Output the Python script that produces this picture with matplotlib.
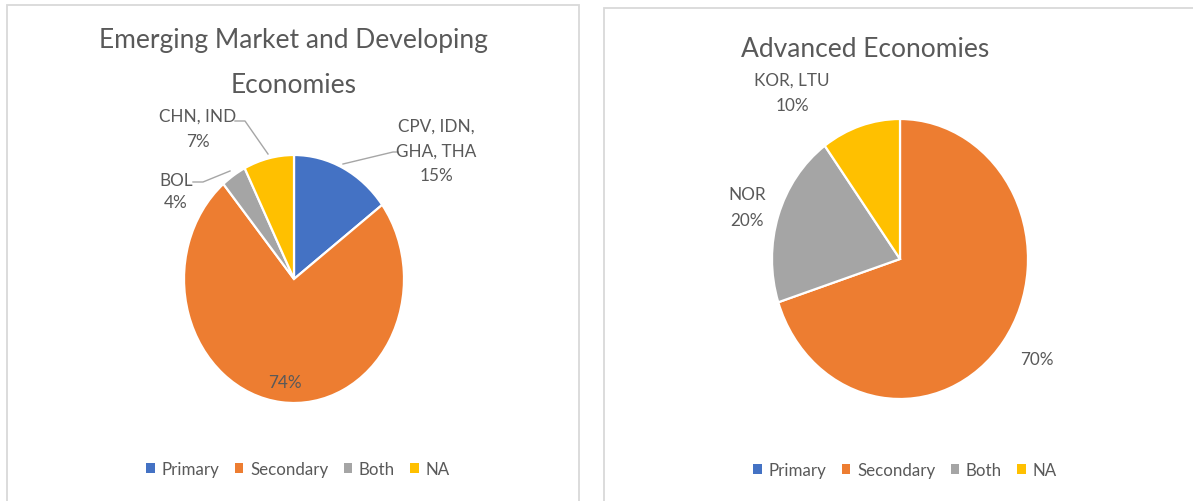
import matplotlib
matplotlib.use("Agg")
import matplotlib.pyplot as plt
from matplotlib.patches import Patch, Rectangle
from matplotlib.lines import Line2D

# ---- data ----
categories = ["Primary", "Secondary", "Both", "NA"]
colors = ["#4472C4", "#ED7D31", "#A5A5A5", "#FFC000"]

emde_title = "Emerging Market and Developing\nEconomies"
emde_values = [14.8, 74.1, 3.7, 7.4]
emde_labels = ["CPV, IDN,\nGHA, THA\n15%", "74%", "BOL\n4%", "CHN, IND\n7%"]

adv_title = "Advanced Economies"
adv_values = [0, 70, 20, 10]
adv_labels = ["", "70%", "NOR\n20%", "KOR, LTU\n10%"]

W, H = 1193, 502
TEXT = "#595959"
FONT = "Lato"
plt.rcParams["font.family"] = [FONT, "DejaVu Sans"]

fig = plt.figure(figsize=(W / 100, H / 100), dpi=100)
fig.patch.set_facecolor("white")


def fx(x):
    return x / W


def fy(y):
    return 1 - y / H


def ftext(x, y_base, s, size, lh=24.5):
    for i, line in enumerate(s.split("\n")):
        fig.text(fx(x), fy(y_base + i * lh), line, ha="center", va="baseline",
                 fontsize=size, color=TEXT)


def fline(xs, ys):
    fig.add_artist(Line2D([fx(v) for v in xs], [fy(v) for v in ys],
                          color="#A6A6A6", lw=1.0, transform=fig.transFigure))


# panel borders
fig.add_artist(Rectangle((fx(7), fy(520)), fx(579) - fx(7), fy(6) - fy(520),
                         fill=False, ec="#D9D9D9", lw=1.3, transform=fig.transFigure))
fig.add_artist(Rectangle((fx(604), fy(520)), fx(1220) - fx(604), fy(9) - fy(520),
                         fill=False, ec="#D9D9D9", lw=1.3, transform=fig.transFigure))


def pie_axes(cx, cy, rx, ry):
    w, h = 2.5 * rx, 2.5 * ry
    ax = fig.add_axes([fx(cx - w / 2), fy(cy + h / 2), w / W, h / H])
    return ax


def draw_pie(ax, values):
    ax.pie(values, colors=colors, startangle=90, counterclock=False,
           wedgeprops=dict(edgecolor="white", linewidth=1.6))
    ax.set_aspect("auto")
    ax.set_xlim(-1.25, 1.25)
    ax.set_ylim(-1.25, 1.25)
    ax.axis("off")


# left pie
axl = pie_axes(294, 280, 110, 124)
draw_pie(axl, emde_values)
# right pie
axr = pie_axes(900, 260, 128, 140)
draw_pie(axr, adv_values)

# titles
tl = emde_title.split("\n")
ftext(293.5, 48, tl[0], 19)
ftext(293.5, 93, tl[1], 19)
ftext(865, 57, adv_title, 19)

LS = 12.3
# left labels
ftext(436, 132, emde_labels[0], LS)
ftext(285, 388, emde_labels[1], LS)
ftext(176, 186, emde_labels[2], LS, lh=22)
ftext(198, 122, emde_labels[3], LS, lh=25)
fline([343, 393, 398], [165, 153, 153])
fline([268, 245, 235], [155, 122, 122])
fline([230, 203, 193], [172, 183, 183])

# right labels
ftext(1037, 365, adv_labels[1], LS)
ftext(747, 200, adv_labels[2], LS, lh=26)
ftext(792, 86, adv_labels[3], LS, lh=25)

# legends
handles = [Patch(facecolor=c, edgecolor="none") for c in colors]
for cx, cy in [(298, 470), (905, 471)]:
    fig.legend(handles, categories, loc="center", bbox_to_anchor=(fx(cx), fy(cy)),
               ncol=4, frameon=False, fontsize=12.2, labelcolor=TEXT,
               handlelength=0.5, handleheight=0.5, handletextpad=0.4,
               columnspacing=0.9)

fig.savefig("out.png", dpi=100, facecolor="white")
